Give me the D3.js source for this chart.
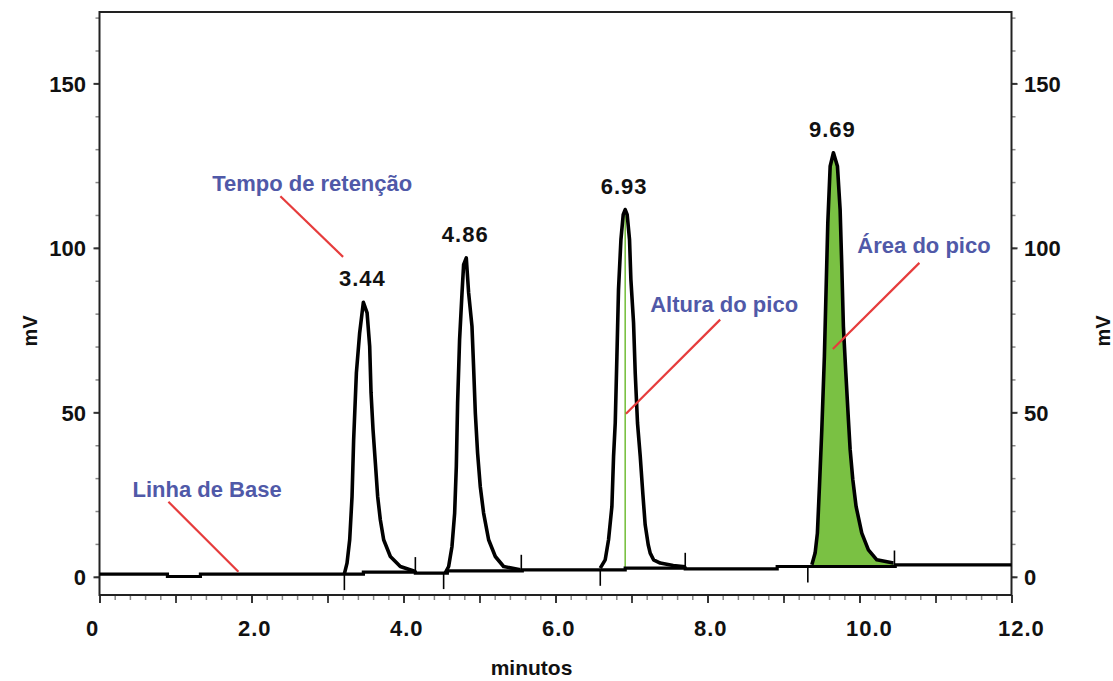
<!DOCTYPE html>
<html>
<head>
<meta charset="utf-8">
<script src="https://cdn.jsdelivr.net/npm/d3@7"></script>
<style>
  html, body { margin: 0; padding: 0; background: #fff; }
  svg { display: block; }
  text { font-family: "Liberation Sans", Arial, sans-serif; font-weight: bold; }
</style>
</head>
<body>
<svg id="chart" width="1113" height="681"></svg>
<script>
// ---------------- DATA ----------------
const xTickValues = [0, 2, 4, 6, 8, 10, 12];
const xTickLabels = ["0", "2.0", "4.0", "6.0", "8.0", "10.0", "12.0"];
const yTickValues = [0, 50, 100, 150];
const yTickLabels = ["0", "50", "100", "150"];
const xTitle = "minutos";
const yTitle = "mV";

// baseline of the signal (value holds from each time to the next)
const baselineT = [0, 0.894, 1.328, 3.472, 4.156, 4.577, 5.563, 6.917, 7.707, 8.917, 10.47, 12];
const baselineV = [0.82, 0.09, 0.82, 1.43, 1.13, 1.83, 2.13, 2.65, 2.43, 3.13, 3.65, 3.65];

// peak traces [minutes, mV]
const peak1 = [[3.222,0.91],[3.257,4.17],[3.292,11.26],[3.323,24.43],[3.344,41.68],[3.380,61.97],[3.423,74.14],
  [3.455,80.23],[3.472,83.45],[3.521,80.23],[3.555,70.06],[3.573,55.89],[3.599,44.72],[3.630,34.59],
  [3.660,24.43],[3.695,17.34],[3.739,11.26],[3.827,6.18],[3.958,3.13],[4.155,1.61]];
const peak2 = [[4.550,1.2],[4.594,3.13],[4.638,9.22],[4.673,19.38],[4.695,33.56],[4.712,52.85],[4.738,72.10],
  [4.770,86.31],[4.791,94.92],[4.826,96.96],[4.857,86.31],[4.901,76.15],[4.922,63.98],[4.945,49.80],
  [4.975,37.63],[5.010,27.47],[5.054,19.38],[5.120,11.26],[5.208,6.18],[5.317,3.13],[5.537,2.13]];
const peak3 = [[6.589,2.65],[6.654,5.17],[6.698,11.26],[6.742,21.39],[6.764,36.60],[6.786,46.76],[6.808,67.02],
  [6.829,87.31],[6.861,102.53],[6.891,110.1],[6.917,111.65],[6.943,110.1],[6.974,102.53],[6.992,90.36],
  [7.027,77.18],[7.049,61.97],[7.079,46.76],[7.115,36.60],[7.150,24.95],[7.180,15.82],[7.220,9.74],
  [7.246,7.21],[7.290,5.17],[7.378,4.17],[7.549,3.44],[7.707,3.04]];
const peak4 = [[9.373,3.65],[9.416,7.21],[9.446,13.29],[9.473,27.47],[9.504,44.72],[9.538,67.02],[9.557,84.27],
  [9.583,107.6],[9.614,124.8],[9.657,128.9],[9.710,124.8],[9.745,111.65],[9.767,94.40],[9.788,76.15],
  [9.820,61.97],[9.854,47.76],[9.877,38.64],[9.912,29.51],[9.955,21.39],[10.030,13.29],[10.117,8.21],
  [10.228,5.17],[10.446,4.17]];
const peakLabels = ["3.44", "4.86", "6.93", "9.69"];

// integration events (minutes)
const peakStarts = [3.222, 4.528, 6.589, 9.320];
const peakEnds = [4.156, 5.550, 7.707, 10.46];

// annotations: text, text anchor [min, mV], pointer from / to [min, mV]
const annText = ["Tempo de retenção", "Linha de Base", "Altura do pico", "Área do pico"];
const annAt = [[1.482, 117.4], [0.434, 24.3], [7.246, 80.4], [9.972, 98.3]];
const annFrom = [[2.380, 115.7], [0.907, 22.8], [8.167, 78.19], [10.788, 95.44]];
const annTo = [[3.205, 97.26], [1.828, 1.52], [6.927, 49.59], [9.649, 69.27]];

// ---------------- DRAW ----------------
const svg = d3.select("#chart");
const X0 = 99.5, X1 = 1011.5, YT = 12, YB = 595;
const x = d3.scaleLinear().domain([0, 12]).range([X0, X1]);
const y = d3.scaleLinear().domain([-5.53, 171.7]).range([YB, YT]);

const BLUE = "#5059a8", RED = "#e63c3c", GREEN = "#7ac143";

function baseAt(t) {
  let v = baselineV[0];
  for (let i = 0; i < baselineT.length; i++) if (baselineT[i] <= t) v = baselineV[i];
  return v;
}

// axes
function styleAxis(g, color, width) {
  g.select(".domain").remove();
  g.selectAll(".tick line").attr("stroke", color).attr("stroke-width", width);
  g.selectAll("text").attr("font-size", 22).attr("fill", "#111").attr("font-family", "Liberation Sans, Arial, sans-serif").attr("font-weight", "bold");
}
// minor ticks
svg.append("g").attr("transform", `translate(${X0},0)`)
  .call(d3.axisLeft(y).tickValues(d3.range(0, 171, 10)).tickSize(4).tickFormat(""))
  .call(g => styleAxis(g, "#888", 1.5));
svg.append("g").attr("transform", `translate(${X1},0)`)
  .call(d3.axisRight(y).tickValues(d3.range(0, 171, 10)).tickSize(4).tickFormat(""))
  .call(g => styleAxis(g, "#888", 1.5));
svg.append("g").attr("transform", `translate(0,${YB})`)
  .call(d3.axisBottom(x).tickValues(d3.range(0, 12.01, 0.2)).tickSize(5).tickFormat(""))
  .call(g => styleAxis(g, "#888", 1.5));
svg.append("g").attr("transform", `translate(0,${YB})`)
  .call(d3.axisBottom(x).tickValues(d3.range(0, 13, 1)).tickSize(8).tickFormat(""))
  .call(g => styleAxis(g, "#333", 1.8));
// major ticks with labels
svg.append("g").attr("transform", `translate(${X0},0)`)
  .call(d3.axisLeft(y).tickValues(yTickValues).tickSize(6).tickPadding(7.5)
    .tickFormat((d, i) => yTickLabels[i]))
  .call(g => styleAxis(g, "#333", 2))
  .call(g => g.selectAll("text").attr("dy", "0.36em"));
svg.append("g").attr("transform", `translate(${X1},0)`)
  .call(d3.axisRight(y).tickValues(yTickValues).tickSize(6).tickPadding(6.5)
    .tickFormat((d, i) => yTickLabels[i]))
  .call(g => styleAxis(g, "#333", 2))
  .call(g => g.selectAll("text").attr("dy", "0.36em"));
svg.append("g").attr("transform", `translate(0,${YB})`)
  .call(d3.axisBottom(x).tickValues(xTickValues).tickSize(8)
    .tickFormat((d, i) => xTickLabels[i]))
  .call(g => styleAxis(g, "#333", 1.8))
  .call(g => g.selectAll("text").attr("text-anchor", "start").attr("x", -14).attr("y", 41).attr("dy", 0)
    .attr("letter-spacing", 1));

// frame
svg.append("rect").attr("x", X0).attr("y", YT).attr("width", X1 - X0).attr("height", YB - YT)
  .attr("fill", "none").attr("stroke", "#222").attr("stroke-width", 2);

// titles
svg.append("text").attr("x", 531.5).attr("y", 675).attr("text-anchor", "middle")
  .attr("font-size", 21).attr("fill", "#111").text(xTitle);
[30, 1103].forEach(cx => {
  svg.append("text").attr("transform", `translate(${cx},331) rotate(-90)`)
    .attr("text-anchor", "middle").attr("dy", "0.35em")
    .attr("font-size", 20).attr("fill", "#111").text(yTitle);
});

// green filled area of last peak
const s4 = peak4[0], e4 = peak4[peak4.length - 1];
const bl4 = d3.scaleLinear().domain([s4[0], e4[0]]).range([baseAt(s4[0]), baseAt(e4[0])]);
svg.append("path").datum(peak4)
  .attr("d", d3.area().x(d => x(d[0])).y1(d => y(d[1])).y0(d => y(bl4(d[0]))))
  .attr("fill", GREEN);

// green height line for peak 3
const apex3 = peak3.reduce((a, b) => (b[1] > a[1] ? b : a));
svg.append("line").attr("x1", x(apex3[0])).attr("x2", x(apex3[0]))
  .attr("y1", y(baseAt(apex3[0]))).attr("y2", y(apex3[1]))
  .attr("stroke", GREEN).attr("stroke-width", 1.6);

// baseline
const basePts = baselineT.map((t, i) => [t, baselineV[i]]);
svg.append("path").datum(basePts)
  .attr("d", d3.line().x(d => x(d[0])).y(d => y(d[1])).curve(d3.curveStepAfter))
  .attr("fill", "none").attr("stroke", "#000").attr("stroke-width", 3.2);

// peaks
const line = d3.line().x(d => x(d[0])).y(d => y(d[1]));
[peak1, peak2, peak3, peak4].forEach(p => {
  svg.append("path").datum(p).attr("d", line)
    .attr("fill", "none").attr("stroke", "#000").attr("stroke-width", 3.6).attr("stroke-linejoin", "round");
});

// integration markers
peakStarts.forEach(t => {
  svg.append("line").attr("x1", x(t)).attr("x2", x(t))
    .attr("y1", y(baseAt(t))).attr("y2", y(baseAt(t)) + 16)
    .attr("stroke", "#000").attr("stroke-width", 1.6);
});
peakEnds.forEach(t => {
  svg.append("line").attr("x1", x(t)).attr("x2", x(t))
    .attr("y1", y(baseAt(t))).attr("y2", y(baseAt(t)) - 16)
    .attr("stroke", "#000").attr("stroke-width", 1.6);
});

// peak labels
[peak1, peak2, peak3, peak4].forEach((p, i) => {
  const apex = p.reduce((a, b) => (b[1] > a[1] ? b : a));
  svg.append("text").attr("x", x(apex[0]) - 1).attr("y", y(apex[1]) - 16)
    .attr("text-anchor", "middle").attr("font-size", 22).attr("letter-spacing", 1)
    .attr("fill", "#111").text(peakLabels[i]);
});

// annotations
annText.forEach((txt, i) => {
  svg.append("line")
    .attr("x1", x(annFrom[i][0])).attr("y1", y(annFrom[i][1]))
    .attr("x2", x(annTo[i][0])).attr("y2", y(annTo[i][1]))
    .attr("stroke", RED).attr("stroke-width", 2.2);
  svg.append("text").attr("x", x(annAt[i][0])).attr("y", y(annAt[i][1]))
    .attr("font-size", 22).attr("fill", BLUE).text(txt);
});
</script>
</body>
</html>
